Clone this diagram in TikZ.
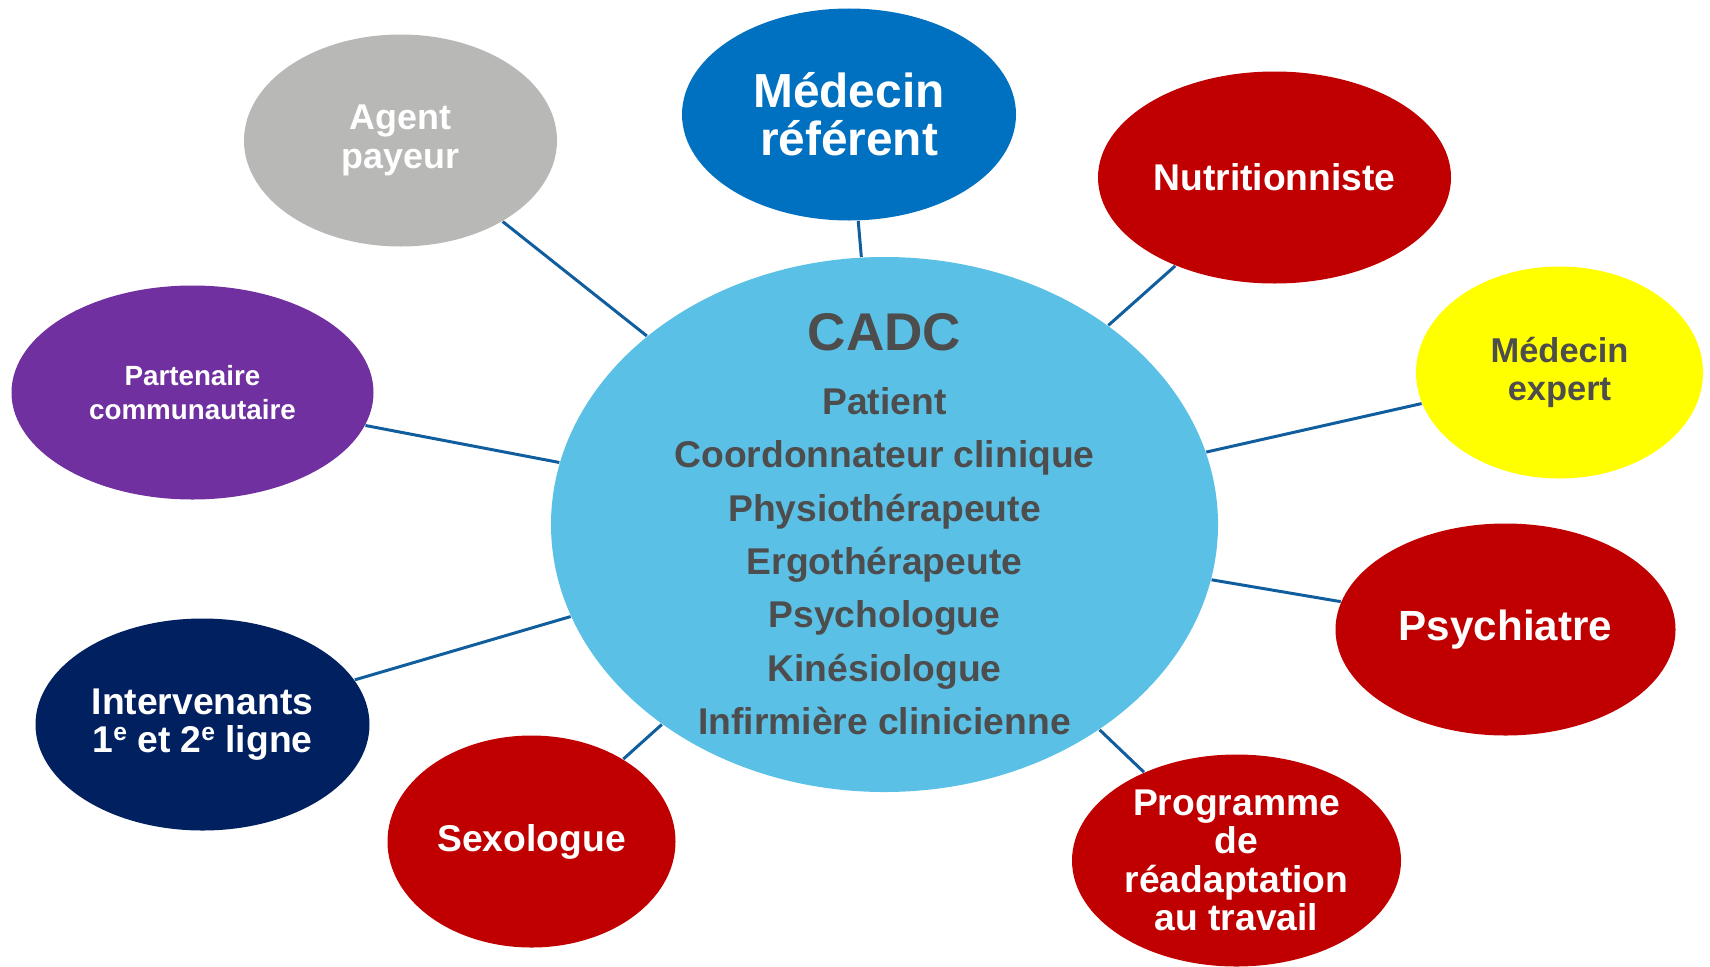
\documentclass[tikz,border=0pt]{standalone}
\usepackage{fontspec}
\setmainfont{Liberation Sans}
\usetikzlibrary{shapes.geometric,positioning}

\definecolor{cadcblue}{RGB}{91,192,230}
\definecolor{refblue}{RGB}{0,112,192}
\definecolor{deepred}{RGB}{192,0,0}
\definecolor{navy}{RGB}{0,32,96}
\definecolor{violet}{RGB}{112,48,160}
\definecolor{paygrey}{RGB}{184,184,182}
\definecolor{brightyellow}{RGB}{255,255,0}
\definecolor{linkblue}{RGB}{16,94,158}
\definecolor{darktext}{RGB}{77,77,77}

\begin{document}
\begin{tikzpicture}[on grid,
    bubble/.style={ellipse,inner sep=0pt,minimum height=2.12cm,align=center,text=white,font=\bfseries\fontsize{10.6pt}{10.9pt}\selectfont},
    link/.style={draw=linkblue,line width=0.85pt}]
        \useasboundingbox (0,0) rectangle (17.1,9.66);

        \node[ellipse,fill=cadcblue,minimum width=6.67cm,minimum height=5.35cm] (cadc) at (8.845,4.415) {};
        \node[align=center,text=darktext,font=\bfseries\fontsize{10.6pt}{15.2pt}\selectfont] (team) at (cadc) {%
            {\fontsize{15.1pt}{15.2pt}\selectfont CADC}\\[0.1cm]
            Patient\\Coordonnateur clinique\\Physiothérapeute\\Ergothérapeute\\
            Psychologue\\Kinésiologue\\Infirmière clinicienne};

        \node[bubble,fill=paygrey,minimum width=3.13cm,font=\bfseries\fontsize{10.2pt}{10.9pt}\selectfont] (payeur) [above left=3.84cm and 4.84cm of cadc] {Agent\\payeur};
        \node[bubble,fill=refblue,minimum width=3.34cm,font=\bfseries\fontsize{13.6pt}{13.7pt}\selectfont] (referent) [above left=4.10cm and 0.355cm of cadc] {Médecin\\référent};
        \node[bubble,fill=deepred,minimum width=3.53cm] (nutri) [above right=3.47cm and 3.90cm of cadc] {Nutritionniste};
        \node[bubble,fill=brightyellow,minimum width=2.87cm,text=darktext,font=\bfseries\fontsize{9.8pt}{10.8pt}\selectfont] (expert) [above right=1.52cm and 6.75cm of cadc] {Médecin\\expert};
        \node[bubble,fill=deepred,minimum width=3.40cm,font=\bfseries\fontsize{12pt}{13pt}\selectfont] (psych) [below right=1.05cm and 6.21cm of cadc] {Psychiatre};
        \node[bubble,fill=deepred,minimum width=3.29cm] (prog) [below right=3.36cm and 3.52cm of cadc] {Programme\\de\\réadaptation\\au travail};
        \node[bubble,fill=deepred,minimum width=2.88cm] (sexo) [below left=3.17cm and 3.53cm of cadc] {Sexologue};
        \node[bubble,fill=navy,minimum width=3.34cm] (interv) [below left=2.00cm and 6.82cm of cadc] {Intervenants\\1{\fontsize{7pt}{7pt}\selectfont\raisebox{0.9ex}{e}} et 2{\fontsize{7pt}{7pt}\selectfont\raisebox{0.9ex}{e}} ligne};
        \node[bubble,fill=violet,minimum width=3.62cm,minimum height=2.14cm,font=\bfseries\fontsize{7.9pt}{9.6pt}\selectfont] (partner) [above left=1.32cm and 6.92cm of cadc] {Partenaire\\communautaire};

        \foreach \x in {payeur,referent,nutri,expert,psych,prog,sexo,interv,partner}{
            \draw[link] (cadc)--(\x);
        }
    \end{tikzpicture}
\end{document}
